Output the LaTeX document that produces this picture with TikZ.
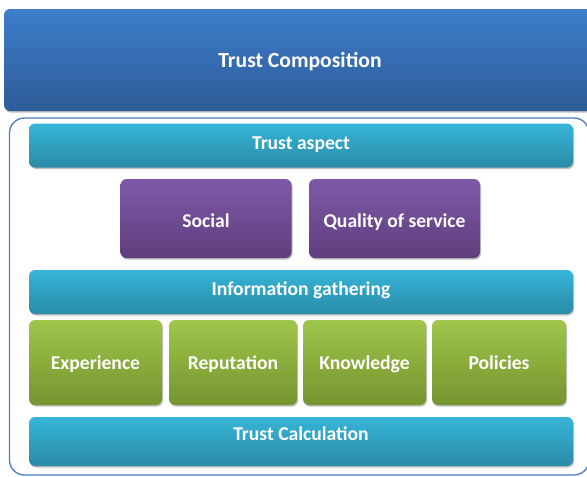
\documentclass[tikz,border=0pt]{standalone}
\usepackage{fontspec}
\setmainfont{Carlito}
\usetikzlibrary{shadows}

\definecolor{compTop}{HTML}{3D7DCB}
\definecolor{compBot}{HTML}{2E5C98}
\definecolor{barTop}{HTML}{36B5D8}
\definecolor{barBot}{HTML}{2A8BA7}
\definecolor{aspTop}{HTML}{7F59A9}
\definecolor{aspBot}{HTML}{5F3E7C}
\definecolor{srcTop}{HTML}{A0C64B}
\definecolor{srcBot}{HTML}{74942E}
\definecolor{frameBlue}{HTML}{4A7CC4}

\tikzset{
	block/.style={rounded corners=6pt, inner sep=0pt, text=white,
		font=\fontsize{19.6}{21}\selectfont\bfseries,
		text height=13pt, text depth=0pt,
		drop shadow={shadow xshift=1pt, shadow yshift=-1.5pt, opacity=0.25, fill=black}},
	comp/.style={block, top color=compTop, bottom color=compBot,
		font=\fontsize{21.6}{23}\selectfont\bfseries, text height=14pt},
	bar/.style={block, top color=barTop, bottom color=barBot,
		minimum width=544pt, minimum height=44pt, text depth=6pt},
	aspect/.style={block, top color=aspTop, bottom color=aspBot,
		minimum width=171pt, minimum height=79pt, text height=18pt},
	source/.style={block, top color=srcTop, bottom color=srcBot,
		minimum height=85pt}
}

\begin{document}
\begin{tikzpicture}[x=1pt, y=-1pt]

	\useasboundingbox (0,0) rectangle (587,477);

	\node[comp, minimum width=592pt, minimum height=102pt] (comp) at (300,60) {Trust Composition};

	% frame round the layers
	\draw[frameBlue, line width=1.3pt, rounded corners=15pt] (9.5,118) rectangle (589,475);

	\node[bar] (aspect) at (301,145.5) {Trust aspect};
	\node[aspect] (social) at (206,218.5) {Social};
	\node[aspect] (qos) at (394.5,218.5) {Quality of service};

	\node[bar] (gather) at (301,292) {Information gathering};
	\node[source, minimum width=133pt] (exp) at (95.5,362.5) {Experience};
	\node[source, minimum width=128pt] (rep) at (233,362.5) {Reputation};
	\node[source, minimum width=123pt] (know) at (364.5,362.5) {Knowledge};
	\node[source, minimum width=134pt] (pol) at (499,362.5) {Policies};

	\node[bar, minimum height=49pt, text depth=15pt] (calc) at (301,441.5) {Trust Calculation};

\end{tikzpicture}
\end{document}
